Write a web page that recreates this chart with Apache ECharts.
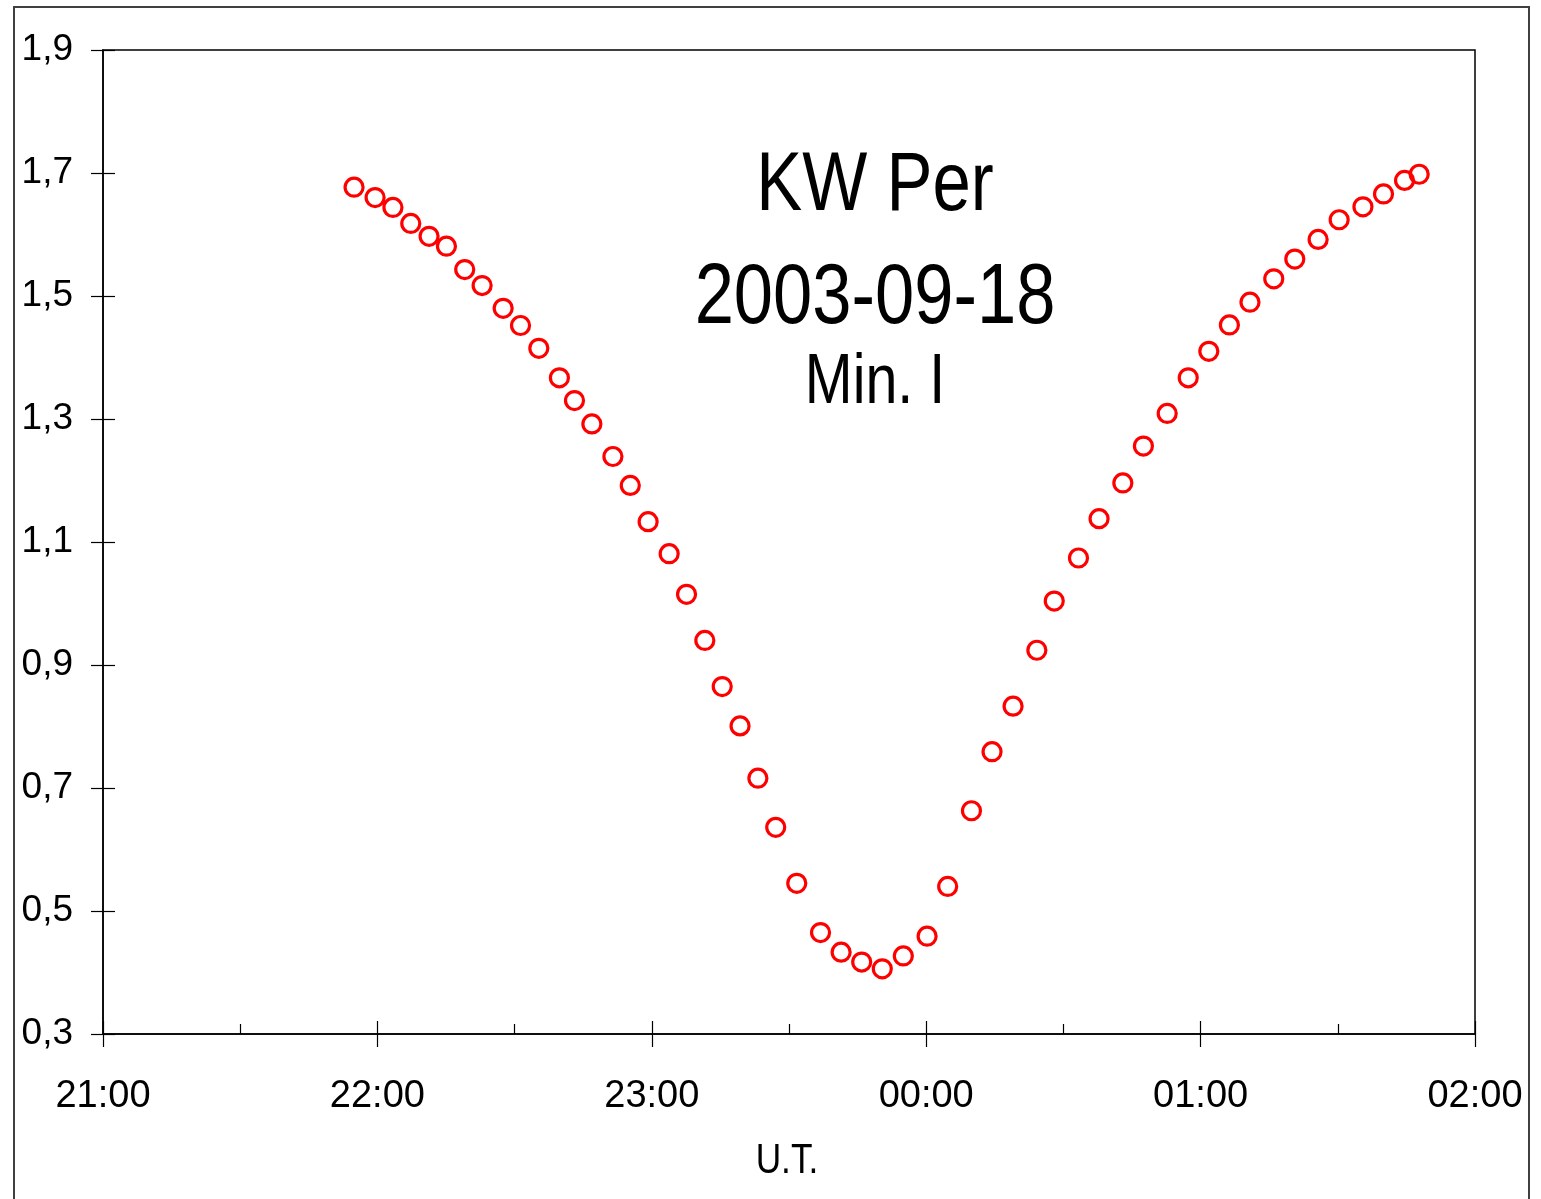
<!DOCTYPE html>
<html>
<head>
<meta charset="utf-8">
<script src="https://cdn.jsdelivr.net/npm/echarts@6/dist/echarts.min.js"></script>
<style>
  html, body { margin: 0; padding: 0; background: #fff; }
  #chart { width: 1541px; height: 1199px; }
</style>
</head>
<body>
<div id="chart"></div>
<script>
// Observation times, minutes after 21:00 U.T.
const minutesAfter2100 = [54.9, 59.5, 63.4, 67.3, 71.3, 75.1, 79.1, 82.9, 87.5, 91.3,
  95.3, 99.8, 103.1, 106.9, 111.5, 115.3, 119.2, 123.8, 127.6, 131.6,
  135.4, 139.3, 143.2, 147.1, 151.7, 156.9, 161.4, 165.9, 170.4, 175.0,
  180.2, 184.7, 189.9, 194.4, 199.0, 204.2, 208.0, 213.3, 217.8, 223.0,
  227.5, 232.7, 237.3, 241.8, 246.3, 250.8, 256.0, 260.6, 265.7, 270.3,
  275.5, 280.0, 284.6, 287.8];
const magnitudes = [1.677, 1.660, 1.644, 1.618, 1.597, 1.581, 1.543, 1.517, 1.480, 1.452,
  1.415, 1.367, 1.330, 1.292, 1.239, 1.192, 1.133, 1.081, 1.015, 0.940,
  0.865, 0.801, 0.716, 0.636, 0.545, 0.465, 0.433, 0.417, 0.406, 0.427,
  0.459, 0.540, 0.663, 0.759, 0.833, 0.924, 1.004, 1.074, 1.138, 1.196,
  1.256, 1.309, 1.367, 1.410, 1.453, 1.490, 1.528, 1.560, 1.592, 1.624,
  1.645, 1.666, 1.688, 1.698];
const titleLines = ['KW Per', '2003-09-18', 'Min. I'];
const xAxisName = 'U.T.';
const startHour = 21;

const FONT = "'Liberation Sans', Arial, sans-serif";
const points = minutesAfter2100.map((m, i) => [m, magnitudes[i]]);

const chart = echarts.init(document.getElementById('chart'), null, { renderer: 'canvas' });

const xBase = {
  type: 'value', min: 0, max: 300, interval: 60, gridIndex: 0, position: 'bottom',
  splitLine: { show: false }
};
const yBase = {
  type: 'value', min: 0.3, max: 1.9, interval: 0.2, gridIndex: 0, position: 'left',
  splitLine: { show: false }
};

function condensedText(str, x, y, size) {
  return {
    type: 'text', silent: true, z: 100,
    x: x, y: y, scaleX: 0.82, scaleY: 1,
    style: { text: str, fontFamily: FONT, fontSize: size, fill: '#000', align: 'center', verticalAlign: 'middle' }
  };
}

chart.setOption({
  backgroundColor: '#ffffff',
  animation: false,
  grid: {
    left: 103, top: 50, right: 66, bottom: 165,
    show: true, borderColor: '#000', borderWidth: 1.5, backgroundColor: 'transparent'
  },
  xAxis: [
    Object.assign({}, xBase, {
      axisLine: { show: true, lineStyle: { color: '#000', width: 1.5 } },
      axisTick: { show: true, inside: false, length: 13, lineStyle: { color: '#000', width: 1.2 } },
      axisLabel: {
        show: true, margin: 44, fontFamily: FONT, fontSize: 38, color: '#000',
        formatter: v => String((startHour + Math.round(v / 60)) % 24).padStart(2, '0') + ':00'
      }
    }),
    Object.assign({}, xBase, {
      axisLine: { show: false },
      axisTick: { show: true, inside: true, length: 13, lineStyle: { color: '#000', width: 1.2 } },
      minorTick: { show: true, splitNumber: 2, length: 10, lineStyle: { color: '#000', width: 1.2 } },
      axisLabel: { show: false }
    })
  ],
  yAxis: [
    Object.assign({}, yBase, {
      axisLine: { show: true, lineStyle: { color: '#000', width: 1.5 } },
      axisTick: { show: true, inside: false, length: 12, lineStyle: { color: '#000', width: 1.2 } },
      axisLabel: {
        show: true, margin: 30, fontFamily: FONT, fontSize: 37, color: '#000',
        formatter: v => v.toFixed(1).replace('.', ',')
      }
    }),
    Object.assign({}, yBase, {
      axisLine: { show: false },
      axisTick: { show: true, inside: true, length: 12, lineStyle: { color: '#000', width: 1.2 } },
      axisLabel: { show: false }
    })
  ],
  series: [{
    type: 'scatter',
    xAxisIndex: 0, yAxisIndex: 0,
    data: points,
    symbol: 'circle',
    symbolSize: 18,
    itemStyle: { color: 'rgba(255,255,255,0)', borderColor: '#ff0000', borderWidth: 3.2, opacity: 1 },
    emphasis: { disabled: true }
  }],
  graphic: [
    {
      type: 'rect', silent: true, z: 100,
      shape: { x: 14, y: 7, width: 1515, height: 1230 },
      style: { fill: 'none', stroke: '#404040', lineWidth: 2 }
    },
    condensedText(titleLines[0], 875, 187, 84),
    condensedText(titleLines[1], 875, 299, 86),
    condensedText(titleLines[2], 875, 384, 70),
    condensedText(xAxisName, 787, 1161, 43)
  ]
});
</script>
</body>
</html>
